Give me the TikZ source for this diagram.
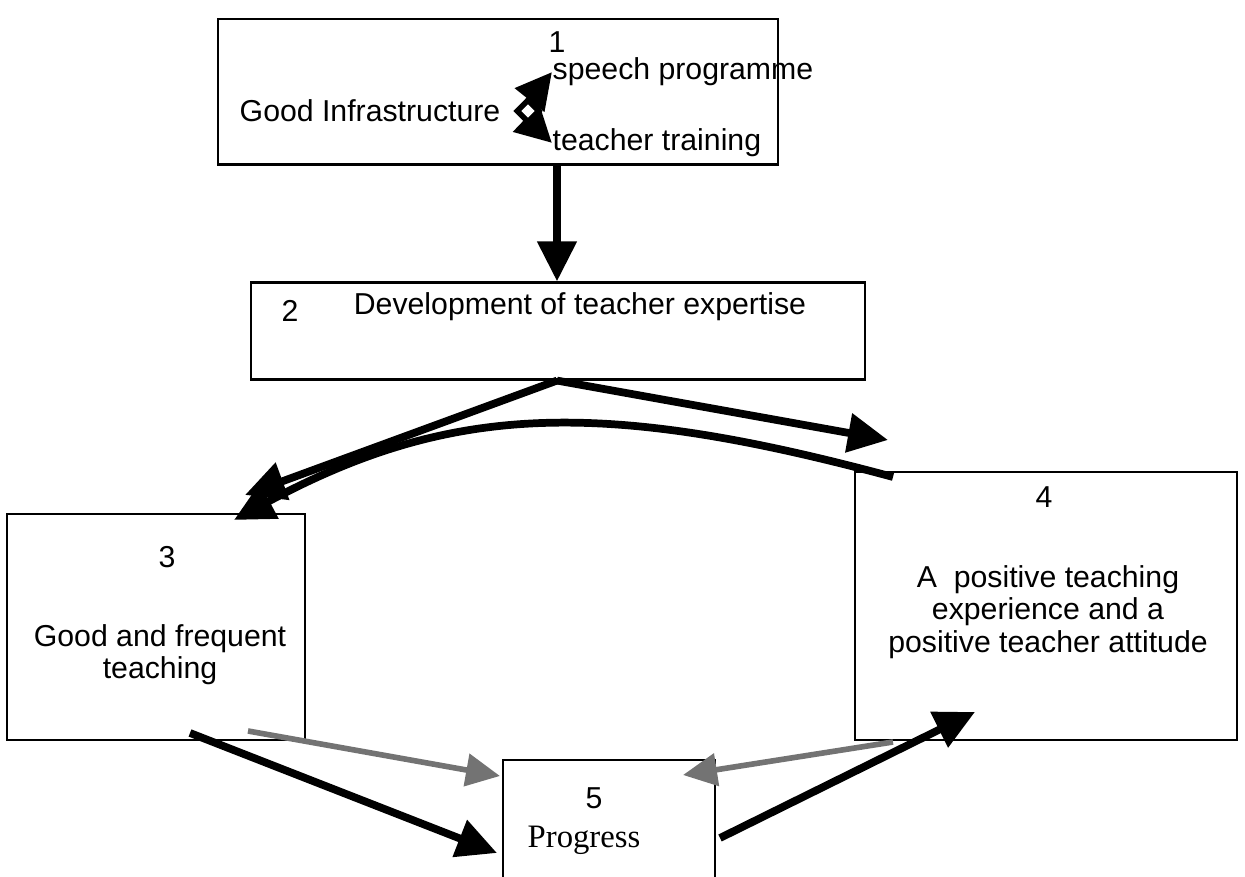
\documentclass[tikz,border=0pt]{standalone}
\usepackage{fontspec}
\setmainfont{Liberation Sans}
\newfontfamily\romfont{Liberation Serif}
\usetikzlibrary{arrows.meta,calc,positioning,shapes.geometric}

\begin{document}
\begin{tikzpicture}[x=0.01cm, y=-0.01cm,
    font=\fontsize{8.6}{9.2}\selectfont,
    box/.style={draw, line width=0.6pt, inner sep=0pt},
    fat/.style={line width=2.2pt, -{Triangle[length=0.4cm, width=0.38cm]}},
    brace/.style={line width=2.2pt, -{Triangle[length=0.36cm, width=0.36cm]}},
    soft/.style={line width=1.6pt, draw=black!55, -{Triangle[length=0.34cm, width=0.32cm, fill=black!55]}}]
  \useasboundingbox (0,0) rectangle (1245,877);
  \clip (0,0) rectangle (1245,877);

  \node[box, minimum width=5.6cm, minimum height=1.45cm] (b1) at (498,92) {};
  \node[box, minimum width=6.13cm, minimum height=0.97cm] (b2) at (558,331) {};
  \node[box, minimum width=2.97cm, minimum height=2.25cm] (b3) at (156,627) {};
  \node[box, minimum width=3.82cm, minimum height=2.67cm] (b4) at (1046,606) {};
  \node[box, minimum width=2.12cm, minimum height=1.4cm] (b5) at (609,830) {};

  \node (n1) at (557,42) {1};
  \node (gi) at (370,111) {Good Infrastructure};
  \node[anchor=west, inner sep=0pt] (sp) at (552,72) {speech programme};
  \node[anchor=west, inner sep=0pt] (tt) at (552,143) {teacher training};
  \node (n2) at (290,311) {2};
  \node (d2) at (580,307) {Development of teacher expertise};
  \node (n3) at (167,557) {3};
  \node[align=center] (g3) at (160,655) {Good and frequent\\teaching};
  \node (n4) at (1044,497) {4};
  \node[align=center] (p4) at (1048,612) {A\ \ positive teaching\\experience and a\\positive teacher attitude};
  \node (n5) at (594,798) {5};
  \node[fill=white, inner sep=0pt, minimum width=1.45cm, minimum height=0.6cm,
        font=\romfont\fontsize{9.3}{10}\selectfont] (pg) at (584,840) {Progress};

  \coordinate (h) at (528,111);
  \draw[brace] ($(h)+(0,-9)$) -- (sp.west);
  \draw[brace] ($(h)+(0,9)$) -- (tt.west);
  \node[diamond, fill=black, inner sep=0pt, minimum size=0.3cm] (hb) at (h) {};
  \node[diamond, fill=white, inner sep=0pt, minimum size=0.14cm] (hw) at (h) {};

  \coordinate (r4) at (888,440);
  \coordinate (l3) at (245,495);
  \coordinate (c4) at (893,477);
  \coordinate (c3) at (234,520);
  \draw[fat] (b1.south -| n1) -- (b2.north -| n1);
  \draw[fat] (b2.south -| n1) -- (r4);
  \draw[fat] (b2.south -| n1) -- (l3);
  \draw[fat] (c4) .. controls (600,398) and (450,404) .. (c3);

  \coordinate (s3) at (190,733);
  \coordinate (e5) at (497,853);
  \coordinate (k3) at (248,731);
  \coordinate (k5) at (500,776);
  \coordinate (k4) at (893,742);
  \coordinate (m5) at (683,775);
  \coordinate (s5) at (720,838);
  \coordinate (e4) at (975,712);
  \draw[fat] (s3) -- (e5);
  \draw[soft] (k3) -- (k5);
  \draw[soft] (k4) -- (m5);
  \draw[fat] (s5) -- (e4);
\end{tikzpicture}
\end{document}
